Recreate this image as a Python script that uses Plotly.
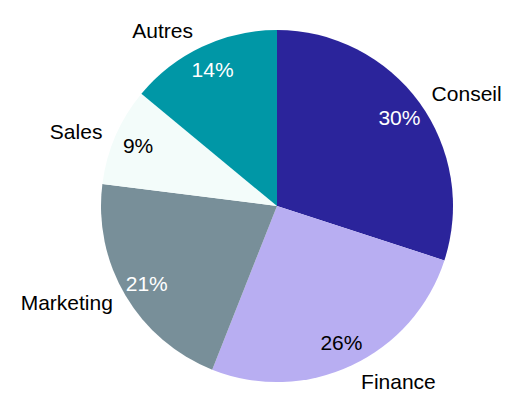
import plotly.graph_objects as go

labels = ["Conseil", "Finance", "Marketing", "Sales", "Autres"]
values = [30, 26, 21, 9, 14]
colors = ["#2b249b", "#b8aef2", "#788f99", "#f3fcfa", "#0097a6"]
pct_colors = ["white", "black", "white", "black", "white"]

FONT = "Liberation Sans, Arial"
common = dict(labels=labels, values=values, sort=False, direction="clockwise",
              rotation=0, showlegend=False, hoverinfo="skip")
H = 368.0
pie_dom = dict(x=[0, 1], y=[8 / H, 1 - 8 / H])
lab_dom = dict(x=[0, 1], y=[0, 1])

fig = go.Figure()
fig.add_trace(go.Pie(
    **common, domain=pie_dom,
    marker=dict(colors=colors, line=dict(width=0)),
    textinfo="none",
))
fig.add_trace(go.Pie(
    **common, domain=lab_dom,
    marker=dict(colors=["rgba(0,0,0,0)"] * 5, line=dict(width=0)),
    texttemplate="%{label}", textposition="outside",
    outsidetextfont=dict(color="black", size=21, family=FONT),
))
fig.add_trace(go.Pie(
    **common, domain=pie_dom, hole=0.72,
    marker=dict(colors=["rgba(0,0,0,0)"] * 5, line=dict(width=0)),
    texttemplate="%{percent:.0%}", textposition="inside",
    insidetextorientation="horizontal",
    insidetextfont=dict(color=pct_colors, size=21, family=FONT),
))
fig.update_layout(
    width=518, height=408,
    margin=dict(l=36, r=0, t=22, b=18, autoexpand=False),
    paper_bgcolor="white", plot_bgcolor="white",
)
fig.write_html("out.html")
